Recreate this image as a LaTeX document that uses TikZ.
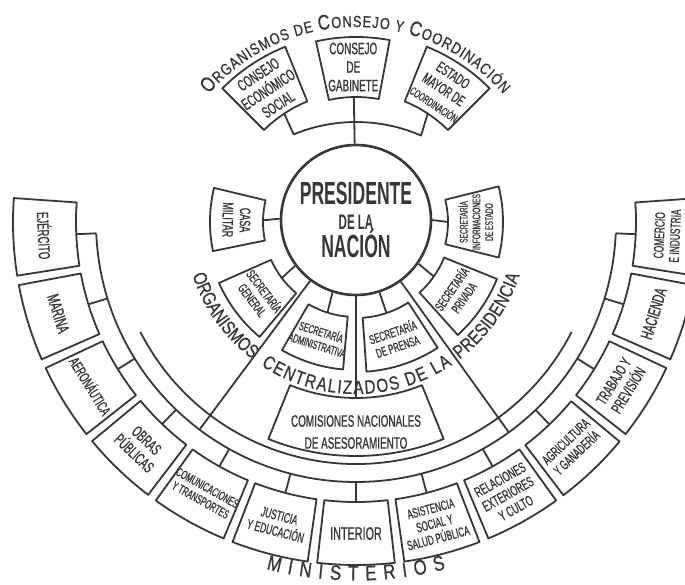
\documentclass[tikz,border=0pt]{standalone}
\usepackage{fontspec}
\newfontfamily\hand{Liberation Sans}[FakeStretch=0.6,FakeBold=0.8]
\newfontfamily\handw{Liberation Sans}[FakeStretch=0.8,FakeBold=0.8]
\newfontfamily\handn{Liberation Sans}[FakeStretch=0.55]
\usepackage{tikz}
\usetikzlibrary{decorations.text}
\definecolor{ink}{RGB}{55,55,55}
\newcommand{\fsz}[2]{\fontsize{#1}{#2}\selectfont}
\newcommand{\tbig}{\handw\fsz{21}{21}}
\newcommand{\tsm}{\handw\fsz{16}{16}}
\newcommand{\tmid}{\handw\fsz{19}{19}}
\newcommand{\tmin}{\handw\fsz{21}{21}}
\newcommand{\secbox}[4]{\draw[line] ({#1-#2}:#3) arc[start angle={#1-#2}, end angle={#1+#2}, radius=#3pt]
  -- ({#1+#2}:#4) arc[start angle={#1+#2}, end angle={#1-#2}, radius=#4pt] -- cycle;}
\tikzset{
  line/.style={draw=ink, line width=1.8pt, line join=round},
  lbl/.style={text=ink, align=center, inner sep=0pt, font=\hand},
  arctext/.style={decorate, decoration={text along path, text align=fit to path, text color=ink}}
}

\begin{document}
\begin{tikzpicture}[x=1pt,y=1pt]
\useasboundingbox (-356,-363) rectangle (329,222);
\clip (-356,-363) rectangle (329,222);
\fill[white] (-356,-363) rectangle (329,222);

% presidente
\node[circle, draw=ink, line width=2.6pt, minimum size=150pt, inner sep=0pt] (pres) at (0,2) {};
\node[lbl, anchor=base, font=\handn\bfseries\fsz{32}{32}] (pres1) at (0,17) {PRESIDENTE};
\node[lbl, anchor=base, font=\handn\bfseries\fsz{21}{21}] (pres2) at (0,-8) {DE LA};
\node[lbl, anchor=base, font=\handn\bfseries\fsz{32}{32}] (pres3) at (0,-36) {NACIÓN};

% consejo y coordinacion
\secbox{91}{11.5}{125}{185}
\secbox{123.5}{11.5}{130}{189}
\secbox{56.5}{11.5}{130}{189}
\node[lbl, font=\hand\fsz{16.5}{18.5}] (gab) at (91:155) {CONSEJO\\DE\\GABINETE};
\node[lbl, rotate=33.5, font=\hand\fsz{16}{18}] (eco) at (123.5:159) {CONSEJO\\ECONÓMICO\\SOCIAL};
\node[lbl, rotate=-33.5, font=\hand\fsz{15}{17}] (emc) at (56.5:159) {ESTADO\\MAYOR DE\\{\fsz{11.5}{17}COORDINACIÓN}};
\coordinate (gabin) at (91:125);
\coordinate (ecoin) at (123.5:130);
\coordinate (emcin) at (56.5:130);
\coordinate (barL) at ([shift={(0,-63)}]112.5:163);
\draw[line] (ecoin) -- (barL) arc[start angle=112.5, end angle=66.5, radius=163pt] -- (emcin);
\draw[line] (gabin) -- (pres.91);
\path[arctext, decoration={text={|\tbig|O|\tsm|RGANISMOS DE |\tbig|C|\tsm|ONSEJO Y |\tbig|C|\tsm|OORDINACIÓN}}]
  (139:195) arc[start angle=139, end angle=41, radius=195pt];

% organismos centralizados
\foreach \a/\h/\ri/\ro/\s/\t [count=\i] in {
  179/12.5/93/146/15/{CASA\\MILITAR},
  0/14/92/147/11/{SECRETARÍA\\INFORMACIONES\\DE ESTADO},
  217/13/93/150/13/{SECRETARÍA\\GENERAL},
  252.5/12.5/95/148/12/{SECRETARÍA\\ADMINISTRATIVA},
  288.5/14.5/96/150/13/{SECRETARÍA\\DE PRENSA},
  325/13/95/152/13/{SECRETARÍA\\PRIVADA}}
{
  \secbox{\a}{\h}{\ri}{\ro}
  \pgfmathsetmacro{\rc}{(\ri+\ro)/2}
  \pgfmathsetmacro{\bs}{1.15*\s}
  \coordinate (sin\i) at (\a:\ri);
  \draw[line] (pres.\a) -- (sin\i);
  \node[lbl, rotate=\a+90, font=\hand\fsz{\s}{\bs}] (sec\i) at (\a:\rc) {\t};
}
\secbox{270}{22}{176}{234}
\node[lbl, font=\hand\fsz{16.5}{22}] (com) at (270:210) {COMISIONES NACIONALES\\DE ASESORAMIENTO};
\coordinate (comin) at (270:176);
\draw[line] (pres.270) -- (comin);
\coordinate (bandL) at (233:260);
\coordinate (bandR) at (306:260);
\draw[line] (pres.233) -- (bandL);
\draw[line] (pres.306) -- (bandR);
\path[arctext, decoration={text={|\tmid|ORGANISMOS}}] (198:172) arc[start angle=198, end angle=232, radius=172pt];
\path[arctext, decoration={text={|\tmid|CENTRALIZADOS DE LA}}] (236.5:172) arc[start angle=236.5, end angle=304, radius=172pt];
\path[arctext, decoration={text={|\tmid|PRESIDENCIA}}] (307:172) arc[start angle=307, end angle=342, radius=172pt];

% ministerios
\draw[line] (182.5:260) arc[start angle=182.5, end angle=357.5, radius=260pt];
\draw[line] (207:242) arc[start angle=207, end angle=333, radius=242pt];
\foreach \a/\s/\t [count=\i] in {
  182.5/16/{EJÉRCITO},
  197.1/17/{MARINA},
  211.7/15/{AERONÁUTICA},
  226.2/16/{OBRAS\\PÚBLICAS},
  240.8/12.5/{COMUNICACIONES\\Y TRANSPORTES},
  255.4/14/{JUSTICIA\\Y EDUCACIÓN},
  270/18/{INTERIOR},
  284.6/13.5/{ASISTENCIA\\SOCIAL Y\\SALUD PÚBLICA},
  299.2/14.5/{RELACIONES\\EXTERIORES\\Y CULTO},
  313.7/14/{AGRICULTURA\\Y GANADERÍA},
  328.3/15.5/{TRABAJO Y\\PREVISIÓN},
  342.9/17/{HACIENDA},
  357.5/14/{COMERCIO\\E INDUSTRIA}}
{
  \secbox{\a}{6.5}{280}{343}
  \pgfmathsetmacro{\bs}{1.12*\s}
  \coordinate (mi\i) at (\a:280);
  \coordinate (ma\i) at (\a:260);
  \draw[line] (mi\i) -- (ma\i);
  \node[lbl, rotate=\a+90, font=\hand\fsz{\s}{\bs}] (min\i) at (\a:311.5) {\t};
}
\path[arctext, decoration={text={|\tmin|MINISTERIOS}}] (255.5:358.5) arc[start angle=255.5, end angle=284.5, radius=358.5pt];
\end{tikzpicture}
\end{document}
